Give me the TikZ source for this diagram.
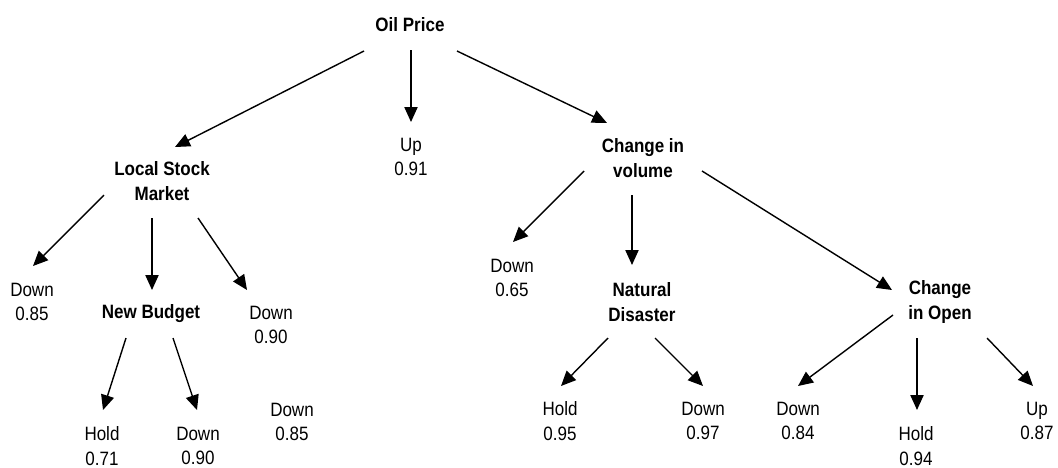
\documentclass[tikz,border=0pt]{standalone}
\usepackage{fontspec}
\setmainfont{Liberation Sans}[FakeStretch=0.88]
\usetikzlibrary{arrows.meta}
\begin{document}
\begin{tikzpicture}[x=0.02cm,y=-0.02cm,
  every node/.style={inner sep=0pt,align=center,font=\fontsize{11}{14}\selectfont},
  choice/.style={font=\fontsize{11}{14}\selectfont\bfseries},
  arr/.style={line width=0.8pt,-{Triangle[length=8.5pt,width=7.5pt]}}]
\useasboundingbox (0,0) rectangle (1058,467);
% decision nodes
\node [choice] (oil) at (410,25) {Oil Price};
\node [choice] (lsm) at (162,181) {Local Stock\\Market};
\node [choice] (civ) at (643,158) {Change in\\volume};
\node [choice] (nb) at (151,314) {New Budget};
\node [choice] (nd) at (642,302) {Natural\\Disaster};
\node [choice] (cio) at (940,302) {Change\\in Open};
% outcomes
\node (up) at (411,157) {Up\\0.91};
\node (d1) at (32,302) {Down\\0.85};
\node (d2) at (271,325) {Down\\0.90};
\node (hold1) at (102,446) {Hold\\0.71};
\node (d3) at (198,446) {Down\\0.90};
\node (d4) at (292,422) {Down\\0.85};
\node (d5) at (512,278) {Down\\0.65};
\node (hold2) at (560,421) {Hold\\0.95};
\node (d6) at (703,421) {Down\\0.97};
\node (d7) at (798,421) {Down\\0.84};
\node (hold3) at (916,446) {Hold\\0.94};
\node (up2) at (1037,421) {Up\\0.87};
% arrows
\draw [arr] ([shift={(-46,26)}]oil.center) -- ([shift={(13,-34)}]lsm.center);
\draw [arr] ([shift={(1,25)}]oil.center) -- ([shift={(0,-35)}]up.center);
\draw [arr] ([shift={(47,26)}]oil.center) -- ([shift={(-36,-35)}]civ.center);
\draw [arr] ([shift={(-58,14)}]lsm.center) -- ([shift={(1,-36)}]d1.center);
\draw [arr] ([shift={(-10,37)}]lsm.center) -- ([shift={(1,-24)}]nb.center);
\draw [arr] ([shift={(36,37)}]lsm.center) -- ([shift={(-24,-35)}]d2.center);
\draw [arr] ([shift={(-25,24)}]nb.center) -- ([shift={(1,-36)}]hold1.center);
\draw [arr] ([shift={(22,24)}]nb.center) -- ([shift={(-1,-36)}]d3.center);
\draw [arr] ([shift={(-59,13)}]civ.center) -- ([shift={(1,-36)}]d5.center);
\draw [arr] ([shift={(-11,37)}]civ.center) -- ([shift={(-10,-37)}]nd.center);
\draw [arr] ([shift={(59,13)}]civ.center) -- ([shift={(-48,-12)}]cio.center);
\draw [arr] ([shift={(-34,36)}]nd.center) -- ([shift={(1,-35)}]hold2.center);
\draw [arr] ([shift={(13,36)}]nd.center) -- ([shift={(0,-35)}]d6.center);
\draw [arr] ([shift={(-47,13)}]cio.center) -- ([shift={(0,-35)}]d7.center);
\draw [arr] ([shift={(-23,36)}]cio.center) -- ([shift={(1,-36)}]hold3.center);
\draw [arr] ([shift={(47,36)}]cio.center) -- ([shift={(-4,-35)}]up2.center);
\end{tikzpicture}
\end{document}
